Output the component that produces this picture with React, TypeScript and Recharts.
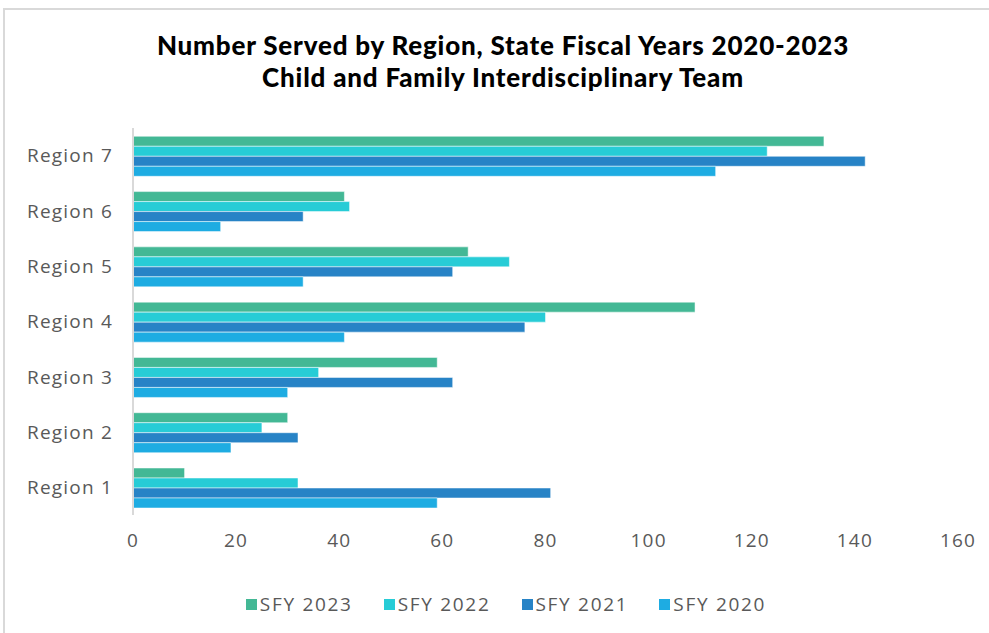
import React from 'react';
import { BarChart, Bar, XAxis, YAxis } from 'recharts';

const regions = ['Region 7', 'Region 6', 'Region 5', 'Region 4', 'Region 3', 'Region 2', 'Region 1'];
const sfy2023 = [134, 41, 65, 109, 59, 30, 10];
const sfy2022 = [123, 42, 73, 80, 36, 25, 32];
const sfy2021 = [142, 33, 62, 76, 62, 32, 81];
const sfy2020 = [113, 17, 33, 41, 30, 19, 59];
const xTicks = [0, 20, 40, 60, 80, 100, 120, 140, 160];

const series = [
  { key: 'sfy2023', name: 'SFY 2023', color: '#43B895' },
  { key: 'sfy2022', name: 'SFY 2022', color: '#27CCD6' },
  { key: 'sfy2021', name: 'SFY 2021', color: '#2783C6' },
  { key: 'sfy2020', name: 'SFY 2020', color: '#1EACE2' },
];

const data = regions.map((region, i) => ({
  region,
  sfy2023: sfy2023[i],
  sfy2022: sfy2022[i],
  sfy2021: sfy2021[i],
  sfy2020: sfy2020[i],
}));

const tickFont = {
  fill: '#595959',
  fontSize: 19,
  fontFamily: '"Open Sans", sans-serif',
  letterSpacing: 1.2,
};

const App: React.FC = () => {
  return (
    <div style={{ position: 'absolute', left: 0, top: 0, width: 989, height: 633, background: '#fff', overflow: 'hidden' }}>
      <div
        style={{
          position: 'absolute',
          left: 3,
          top: 8,
          width: 1000,
          height: 640,
          borderLeft: '2px solid #d9d9d9',
          borderTop: '2px solid #d9d9d9',
        }}
      />
      <div
        style={{
          position: 'absolute',
          left: 0,
          top: 29,
          width: 1006,
          textAlign: 'center',
          fontFamily: 'Lato, sans-serif',
          fontWeight: 900,
          fontSize: 26,
          letterSpacing: 0.8,
          lineHeight: '32px',
          color: '#000',
        }}
      >
        Number Served by Region, State Fiscal Years 2020-2023
        <br />
        Child and Family Interdisciplinary Team
      </div>
      <div style={{ position: 'absolute', left: 0, top: 0 }}>
        <BarChart
          width={989}
          height={633}
          data={data}
          layout="vertical"
          margin={{ top: 128, right: 31, bottom: 78, left: 22 }}
          barCategoryGap="15%"
          barGap={0}
        >
          <XAxis
            type="number"
            domain={[0, 160]}
            ticks={xTicks}
            axisLine={false}
            tickLine={false}
            tickMargin={13}
            height={40}
            tick={tickFont}
          />
          <YAxis
            type="category"
            dataKey="region"
            width={111}
            axisLine={{ stroke: '#d9d9d9', strokeWidth: 2 }}
            tickLine={false}
            tickSize={0}
            tickMargin={20}
            tick={tickFont}
          />
          {series.map((s) => (
            <Bar
              key={s.key}
              dataKey={s.key}
              name={s.name}
              fill={s.color}
              stroke="#ffffff"
              strokeWidth={0.5}
              isAnimationActive={false}
            />
          ))}
        </BarChart>
      </div>
      <div
        style={{
          position: 'absolute',
          left: 0,
          top: 591,
          width: 1012,
          display: 'flex',
          justifyContent: 'center',
          gap: 31,
          fontFamily: '"Open Sans", sans-serif',
          fontSize: 19,
          letterSpacing: 1.7,
          color: '#595959',
        }}
      >
        {series.map((s) => (
          <div key={s.key} style={{ display: 'flex', alignItems: 'center' }}>
            <span style={{ width: 11, height: 11, background: s.color, display: 'inline-block', marginRight: 3 }} />
            <span>{s.name}</span>
          </div>
        ))}
      </div>
    </div>
  );
};

export default App;
